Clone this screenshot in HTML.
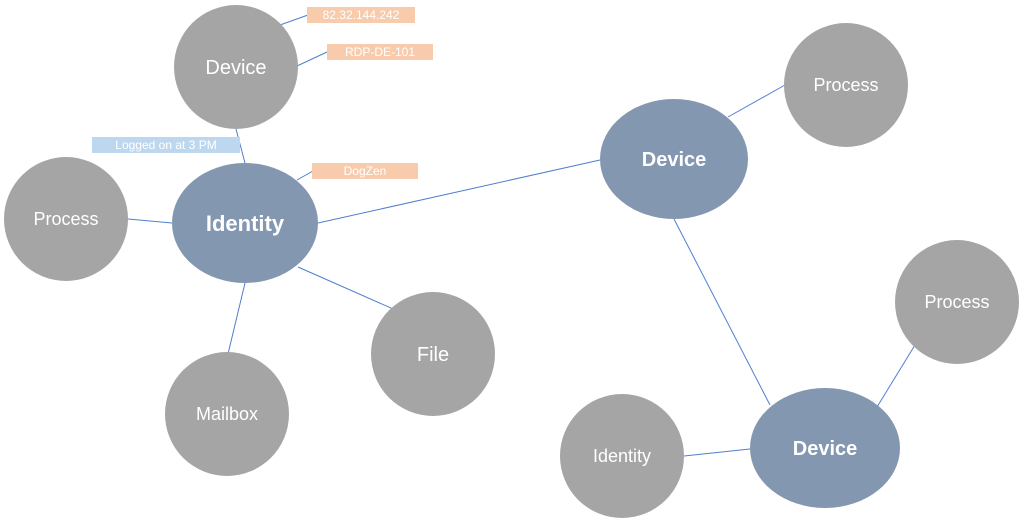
<!DOCTYPE html>
<html><head><meta charset="utf-8"><style>
html,body{margin:0;padding:0;background:#fff;width:1022px;height:520px;overflow:hidden}
svg{display:block}
text{font-family:"Liberation Sans",sans-serif;fill:#fff}
</style></head><body>
<svg width="1022" height="520" viewBox="0 0 1022 520">
<g stroke="#4f7fd0" stroke-width="1" fill="none">
<line x1="280" y1="25" x2="308" y2="15"/>
<line x1="297" y1="66" x2="327" y2="52"/>
<line x1="236" y1="129" x2="245" y2="163"/>
<line x1="297" y1="180" x2="313" y2="171"/>
<line x1="128" y1="219" x2="172" y2="223"/>
<line x1="318" y1="223" x2="600" y2="160"/>
<line x1="298" y1="267" x2="400" y2="312"/>
<line x1="245" y1="283" x2="228" y2="354"/>
<line x1="728" y1="117" x2="785" y2="85"/>
<line x1="674" y1="219" x2="770" y2="405"/>
<line x1="877" y1="407" x2="915" y2="345"/>
<line x1="684" y1="456" x2="750" y2="449"/>
<line x1="240" y1="145" x2="230" y2="145"/>
</g>
<g fill="#a5a5a5">
<circle cx="236" cy="67" r="62"/>
<circle cx="66" cy="219" r="62"/>
<circle cx="433" cy="354" r="62"/>
<circle cx="227" cy="414" r="62"/>
<circle cx="846" cy="85" r="62"/>
<circle cx="957" cy="302" r="62"/>
<circle cx="622" cy="456" r="62"/>
</g>
<g fill="#8497b0">
<ellipse cx="245" cy="223" rx="73" ry="60"/>
<ellipse cx="674" cy="159" rx="74" ry="60"/>
<ellipse cx="825" cy="448" rx="75" ry="60"/>
</g>
<rect x="307" y="7" width="108" height="16" fill="#f8cbad"/>
<rect x="327" y="44" width="106" height="16" fill="#f8cbad"/>
<rect x="312" y="163" width="106" height="16" fill="#f8cbad"/>
<rect x="92" y="137" width="148" height="16" fill="#bdd7ee"/>
<g font-size="12" text-anchor="middle">
<text x="361" y="19">82.32.144.242</text>
<text x="380" y="56">RDP-DE-101</text>
<text x="365" y="175">DogZen</text>
<text x="166" y="149">Logged on at 3 PM</text>
</g>
<g font-size="18" text-anchor="middle">
<text x="236" y="74" font-size="20">Device</text>
<text x="66" y="225">Process</text>
<text x="433" y="361" font-size="20">File</text>
<text x="227" y="420">Mailbox</text>
<text x="846" y="91">Process</text>
<text x="957" y="308">Process</text>
<text x="622" y="462">Identity</text>
</g>
<g font-weight="bold" text-anchor="middle">
<text x="245" y="231" font-size="22">Identity</text>
<text x="674" y="166" font-size="20">Device</text>
<text x="825" y="455" font-size="20">Device</text>
</g>
</svg>
</body></html>
